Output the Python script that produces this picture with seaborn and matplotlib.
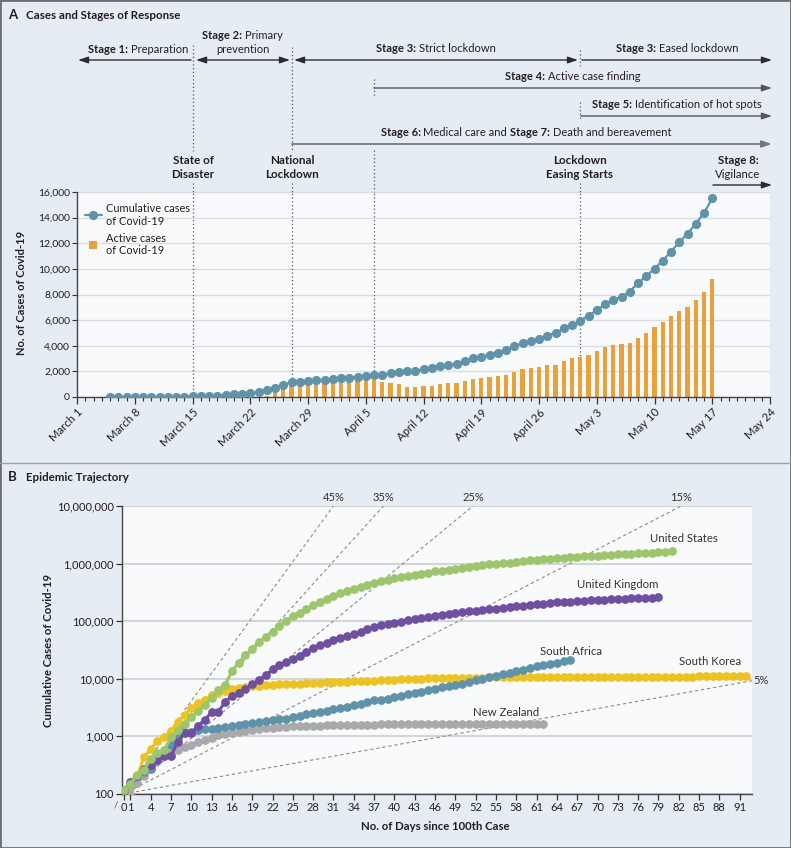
import numpy as np
import pandas as pd
import matplotlib
matplotlib.use("Agg")
import matplotlib.pyplot as plt
import seaborn as sns
from matplotlib.lines import Line2D
from matplotlib.patches import Rectangle
from matplotlib.ticker import FuncFormatter, MultipleLocator, NullLocator

# ------------------------------------------------------------------ data
# Panel A (South Africa), x = days since March 1
cum_start_day = 4            # March 5
cumulative_cases = [
    1, 1, 2, 3, 7, 7, 13, 17, 24, 38,
    51, 62, 85, 116, 150, 202, 240, 274, 402, 554,
    709, 927, 1170, 1187, 1280, 1326, 1353,
    1380, 1462, 1505, 1585, 1655, 1686, 1749, 1845, 1934, 2003,
    2028, 2173, 2272, 2415, 2506, 2605, 2783, 3034, 3158, 3300,
    3465, 3635, 3953, 4220, 4361, 4546, 4793, 4996, 5350, 5647,
    5951, 6336, 6783, 7220, 7572, 7808, 8232, 8895, 9420, 10015,
    10652, 11350, 12074, 12739, 13524, 14355, 15515,
]
active_start_day = 23        # March 24
active_cases = [
    80, 415, 620, 830, 870, 950, 1020, 1030,
    1070, 1150, 1160, 1280, 1330, 1290, 1200, 1120, 990, 810,
    810, 860, 885, 1015, 1070, 1095, 1225, 1405, 1457, 1561,
    1665, 1717, 1951, 2159, 2263, 2315, 2471, 2523, 2810, 3018,
    3122, 3252, 3590, 3876, 4032, 4137, 4240, 4605, 5020, 5437,
    5827, 6322, 6685, 7048, 7571, 8195, 9186,
]
date_tick_labels = ["March 1", "March 8", "March 15", "March 22", "March 29",
                    "April 5", "April 12", "April 19", "April 26", "May 3",
                    "May 10", "May 17", "May 24"]
event_days = [14, 26, 36, 61]   # State of disaster, lockdown, case finding, easing

# Panel B, x = days since 100th case
united_states = [
    118, 149, 217, 262, 402, 518, 583, 959, 1281, 1663,
    2179, 2726, 3499, 4632, 6421, 7786, 13680, 19101, 25493, 33276,
    43847, 53740, 65778, 83836, 101657, 121465, 140909, 161831, 188172, 213242,
    243622, 275367, 308650, 336802, 366317, 397121, 428654, 462780, 496535, 526396,
    555313, 580619, 607670, 636350, 667592, 699706, 732197, 758809, 784326, 811865,
    840351, 869170, 905358, 938154, 965785, 988197, 1012582, 1039909, 1069424, 1103461,
    1132539, 1158040, 1180375, 1204351, 1229331, 1257023, 1283929, 1309550, 1329260, 1347881,
    1369376, 1390406, 1417774, 1442824, 1467820, 1486757, 1508308, 1528568, 1551853, 1577147,
    1600937, 1622612,
]
united_kingdom = [
    115, 163, 206, 273, 321, 382, 456, 460, 798, 1140,
    1140, 1543, 1950, 2626, 2689, 3983, 5018, 5683, 6650, 8077,
    9529, 11658, 14543, 17089, 19522, 22141, 25150, 29474, 33718, 38168,
    41903, 47806, 51608, 55242, 60733, 65077, 73758, 78991, 84279, 88621,
    93873, 98476, 103093, 108692, 114217, 120067, 124743, 129044, 133495, 138078,
    143464, 148377, 152840, 157149, 161145, 165221, 171253, 177454, 182260, 186599,
    190584, 194990, 201101, 206715, 211364, 215260, 219183, 223060, 226463, 229705,
    233151, 236711, 240161, 243695, 246406, 248293, 248818, 252246, 255544, 258504,
]
south_africa = [
    116, 150, 202, 240, 274, 402, 554, 709, 927, 1170,
    1187, 1280, 1326, 1353, 1380, 1462, 1505, 1585, 1655, 1686,
    1749, 1845, 1934, 2003, 2028, 2173, 2272, 2415, 2506, 2605,
    2783, 3034, 3158, 3300, 3465, 3635, 3953, 4220, 4361, 4546,
    4793, 4996, 5350, 5647, 5951, 6336, 6783, 7220, 7572, 7808,
    8232, 8895, 9420, 10015, 10652, 11350, 12074, 12739, 13524, 14355,
    15515, 16433, 17200, 18003, 19137, 20125, 21343,
]
south_korea = [
    104, 150, 204, 433, 602, 833, 977, 1261, 1766, 2337,
    3150, 3736, 4335, 5186, 5621, 6088, 6593, 7041, 7314, 7478,
    7513, 7755, 7869, 7979, 8086, 8162, 8236, 8320, 8413, 8565,
    8652, 8799, 8897, 8961, 9037, 9137, 9241, 9332, 9478, 9583,
    9661, 9786, 9887, 9976, 10062, 10156, 10237, 10284, 10331, 10384,
    10423, 10450, 10480, 10512, 10537, 10564, 10591, 10613, 10635, 10653,
    10661, 10674, 10683, 10694, 10702, 10708, 10718, 10728, 10738, 10752,
    10761, 10765, 10774, 10780, 10793, 10801, 10804, 10806, 10810, 10822,
    10840, 10874, 10909, 10936, 10962, 10991, 11018, 11037, 11050, 11065,
    11078, 11110, 11122,
]
new_zealand = [
    102, 102, 155, 205, 283, 368, 451, 514, 589, 647,
    708, 797, 868, 950, 1039, 1106, 1160, 1210, 1260, 1310,
    1350, 1380, 1410, 1440, 1470, 1490, 1505, 1520, 1535, 1545,
    1555, 1565, 1570, 1580, 1590, 1595, 1600, 1605, 1610, 1612,
    1618, 1620, 1622, 1624, 1625, 1626, 1628, 1630, 1632, 1634,
    1636, 1638, 1640, 1641, 1642, 1644, 1645, 1646, 1648, 1649,
    1650, 1652, 1655,
]
countries = ["New Zealand", "South Korea", "South Africa", "United Kingdom", "United States"]
country_series = [new_zealand, south_korea, south_africa, united_kingdom, united_states]
growth_rates = [45, 35, 25, 15, 5]

# ------------------------------------------------------------------ style
BG = "#e6ecf3"
PLOT_BG = "#f9fafb"
TXT = "#231f20"
BLUE = "#5e93a9"
ORANGE = "#e9a13b"
country_colors = ["#a9a9ab", "#efc31d", "#5e93a9", "#6e4fa2", "#9cc66a"]

sns.set_style("ticks")
plt.rcParams["font.family"] = ["Lato", "DejaVu Sans"]
plt.rcParams["text.color"] = TXT
plt.rcParams["axes.labelcolor"] = TXT
plt.rcParams["xtick.color"] = "#333333"
plt.rcParams["ytick.color"] = "#333333"
plt.rcParams["xtick.labelcolor"] = TXT
plt.rcParams["ytick.labelcolor"] = TXT

W, H, DPI = 791, 848, 100
fig = plt.figure(figsize=(W / DPI, H / DPI), dpi=DPI, facecolor=BG)
renderer = fig.canvas.get_renderer()


def fx(px):
    return px / W


def fy(py):
    return 1 - py / H


def rich(xc, yc, parts, align="center", size=8.0):
    """Mixed bold / regular text on one line, yc = visual centre (px)."""
    em = size * DPI / 72.0
    gap = 0.26 * em
    objs, widths = [], []
    for s, b in parts:
        t = fig.text(0, 0, s, fontsize=size, fontweight="bold" if b else "normal",
                     ha="left", va="baseline", color=TXT)
        objs.append(t)
        widths.append(t.get_window_extent(renderer).width)
    total = sum(widths) + gap * (len(parts) - 1)
    cur = xc - total / 2 if align == "center" else xc
    base = yc + 0.34 * em
    for t, w in zip(objs, widths):
        t.set_position((fx(cur), fy(base)))
        cur += w + gap


comma = FuncFormatter(lambda v, p: f"{v:,.0f}")

# ================================================================= Panel A
axA = fig.add_axes([fx(77), fy(397), (770 - 77) / W, (397 - 192) / H])
axA.set_facecolor(PLOT_BG)

dfA_act = pd.DataFrame({"day": np.arange(active_start_day, active_start_day + len(active_cases)),
                        "cases": active_cases})
dfA_cum = pd.DataFrame({"day": np.arange(cum_start_day, cum_start_day + len(cumulative_cases)),
                        "cases": cumulative_cases})

for d in event_days:
    axA.axvline(d, color="#555555", ls=(0, (1, 2)), lw=0.9, zorder=1.5)

sns.barplot(data=dfA_act, x="day", y="cases", native_scale=True, width=0.5,
            color=ORANGE, saturation=1, errorbar=None, linewidth=0, ax=axA, zorder=2)
sns.lineplot(data=dfA_cum, x="day", y="cases", color=BLUE, lw=1.6, marker="o",
             markersize=6.6, markeredgewidth=0, ax=axA, zorder=3, legend=False)

axA.set_xlim(0, 84)
axA.set_ylim(0, 16000)
axA.set_xlabel("")
axA.set_ylabel("")
axA.set_xticks(np.arange(0, 85, 7))
axA.set_xticklabels(date_tick_labels, rotation=45, ha="right", rotation_mode="anchor", fontsize=8.2)
axA.xaxis.set_minor_locator(MultipleLocator(1))
axA.set_yticks(np.arange(0, 16001, 2000))
axA.yaxis.set_major_formatter(comma)
axA.tick_params(axis="y", labelsize=7.5, length=3.5, width=0.8, pad=1.5)
axA.tick_params(axis="x", which="major", length=5, width=0.9, pad=2)
axA.tick_params(axis="x", which="minor", length=3, width=0.8)
axA.yaxis.grid(True, color="#dadde1", lw=1)
axA.xaxis.grid(False)
axA.set_axisbelow(True)
for s in ["top", "right"]:
    axA.spines[s].set_visible(False)
for s in ["left", "bottom"]:
    axA.spines[s].set_color("#444444")
    axA.spines[s].set_linewidth(1)

hA = [Line2D([], [], color=BLUE, lw=1.6, marker="o", markersize=6.6, markeredgewidth=0),
      Line2D([], [], color=ORANGE, lw=0, marker="s", markersize=6, markeredgewidth=0)]
axA.legend(hA, ["Cumulative cases\nof Covid-19", "Active cases\nof Covid-19"],
           loc="upper left", bbox_to_anchor=(0.0, 0.985), frameon=False, fontsize=7.9,
           handlelength=1.6, handletextpad=0.3, labelspacing=0.55, borderaxespad=0.3)

fig.text(fx(22), fy(293), "No. of Cases of Covid-19", rotation=90, ha="center", va="center",
         fontsize=8, fontweight="bold")

# ---- annotation band above panel A (y in pixel units)
axN = fig.add_axes([fx(77), fy(192), (770 - 77) / W, (192 - 25) / H])
axN.set_xlim(0, 84)
axN.set_ylim(192, 25)
axN.axis("off")


def p2d(px):
    return (px - 77) / 8.25


dot_segments = {
    event_days[0]: [(45, 151), (183, 192)],
    event_days[1]: [(47, 151), (183, 192)],
    event_days[2]: [(79, 97), (150, 192)],
    event_days[3]: [(50, 66), (102, 120), (183, 192)],
}
for d, segs in dot_segments.items():
    for y0, y1 in segs:
        axN.plot([d, d], [y0, y1], color="#555555", ls=(0, (1, 2)), lw=0.9, clip_on=False)


def arrow(x_tail, x_head, y, style="-|>", color="#2b2b2b", lw=1.0):
    axN.annotate("", xy=(p2d(x_head), y), xytext=(p2d(x_tail), y),
                 arrowprops=dict(arrowstyle=f"{style},head_length=0.6,head_width=0.2",
                                 color=color, lw=lw, shrinkA=0, shrinkB=0, mutation_scale=10),
                 annotation_clip=False)


arrow(191, 78, 60)
arrow(196, 290, 60, style="<|-|>")
arrow(294, 578, 60, style="<|-|>")
arrow(582, 772, 60)
arrow(374, 772, 88, color="#555555")
arrow(581, 772, 116, color="#555555")
arrow(292, 772, 144, color="#777777", lw=1.3)
arrow(713, 772, 185)

rich(8, 15, [("A", True)], align="left", size=9.5)
rich(26, 15, [("Cases and Stages of Response", True)], align="left", size=8.3)
rich(138, 49, [("Stage 1:", True), ("Preparation", False)])
rich(242.5, 35, [("Stage 2:", True), ("Primary", False)])
rich(243, 49, [("prevention", False)])
rich(436, 48, [("Stage 3:", True), ("Strict lockdown", False)])
rich(677, 48, [("Stage 3:", True), ("Eased lockdown", False)])
rich(573, 76, [("Stage 4:", True), ("Active case finding", False)])
rich(677, 104, [("Stage 5:", True), ("Identification of hot spots", False)])
rich(526, 132, [("Stage 6:", True), ("Medical care and", False),
                ("Stage 7:", True), ("Death and bereavement", False)])
rich(193, 160, [("State of", True)], size=8.4)
rich(193, 174, [("Disaster", True)], size=8.4)
rich(292, 160, [("National", True)], size=8.4)
rich(292, 174, [("Lockdown", True)], size=8.4)
rich(580, 160, [("Lockdown", True)], size=8.4)
rich(580, 174, [("Easing Starts", True)], size=8.4)
rich(738, 160, [("Stage 8:", True)], size=8.2)
rich(738, 174, [("Vigilance", False)], size=8.2)

# panel separator
fig.add_artist(Line2D([0, 1], [fy(463), fy(463)], transform=fig.transFigure,
                      color="#9aa1a8", lw=1))

# ================================================================= Panel B
rich(8, 477, [("B", True)], align="left", size=9.5)
rich(26, 477, [("Epidemic Trajectory", True)], align="left", size=8.3)

axB = fig.add_axes([fx(122), fy(794), (752 - 122) / W, (794 - 506) / H])
axB.set_facecolor(PLOT_BG)
axB.set_yscale("log")
x_end = 92.82
axB.set_xlim(-0.24, x_end)
axB.set_ylim(100, 1e7)

for g in growth_rates:
    r = 1 + g / 100.0
    axB.plot([0, x_end], [100, 100 * r ** x_end], color="#8a8a8a", lw=0.8,
             dashes=(3, 2.5), zorder=1)
    t_hit = np.log(1e5) / np.log(r)
    if t_hit < x_end:
        axB.annotate(f"{g}%", xy=(t_hit, 1e7), xytext=(0, 2), textcoords="offset points",
                     ha="center", va="bottom", fontsize=8, color="#333333", annotation_clip=False)
    else:
        axB.annotate(f"{g}%", xy=(x_end, 100 * r ** x_end), xytext=(1, 0),
                     textcoords="offset points", ha="left", va="center", fontsize=8,
                     color="#333333", annotation_clip=False)

for i, (name, vals, col) in enumerate(zip(countries, country_series, country_colors)):
    df = pd.DataFrame({"day": np.arange(len(vals)), "cases": vals})
    sns.lineplot(data=df, x="day", y="cases", color=col, lw=2.2, marker="o",
                 markersize=6.3, markeredgewidth=0, ax=axB, legend=False, zorder=3 + i)

label_pos = {
    "United States": (82.8, 2.75e6),
    "United Kingdom": (73.0, 4.37e5),
    "South Africa": (66.1, 3.0e4),
    "South Korea": (86.6, 2.0e4),
    "New Zealand": (56.5, 2.62e3),
}
for name in countries:
    x, y = label_pos[name]
    axB.text(x, y, name, ha="center", va="center", fontsize=8.2, color="#333333", zorder=10)

axB.set_xlabel("")
axB.set_ylabel("")
axB.set_xticks([0] + list(range(1, 92, 3)))
axB.set_yticks([1e2, 1e3, 1e4, 1e5, 1e6, 1e7])
axB.yaxis.set_major_formatter(comma)
axB.yaxis.set_minor_locator(NullLocator())
axB.tick_params(axis="both", labelsize=8, length=4, width=0.9, pad=2)
axB.yaxis.grid(True, color="#d3d6d9", lw=1.5)
axB.xaxis.grid(False)
axB.set_axisbelow(True)
for s in ["top", "right"]:
    axB.spines[s].set_visible(False)
for s in ["left", "bottom"]:
    axB.spines[s].set_color("#444444")
    axB.spines[s].set_linewidth(1)

fig.text(fx(116), fy(805), "/", ha="center", va="center", fontsize=7, color="#555555")
fig.text(fx(49), fy(650), "Cumulative Cases of Covid-19", rotation=90, ha="center",
         va="center", fontsize=8.2, fontweight="bold")
fig.text(fx(435), fy(827), "No. of Days since 100th Case", ha="center", va="center",
         fontsize=8.2, fontweight="bold")

# outer frame
fig.add_artist(Rectangle((0, 0), 1, 1, transform=fig.transFigure, fill=False,
                         ec="#6f6f6f", lw=2))

fig.savefig("out.png", dpi=DPI, facecolor=BG)
